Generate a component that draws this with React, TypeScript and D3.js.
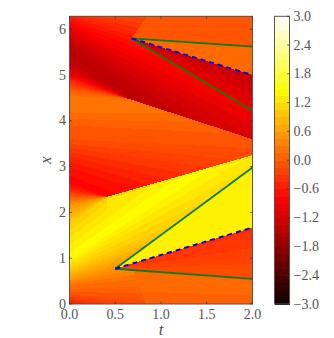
import React, { useRef, useEffect } from "react";
import * as d3 from "d3";

type Pt = [number, number];
// isoline of the field: x at t=0, x at t=2, value, last t it is valid for
type Iso = [number, number, number, number?];

const width = 334;
const height = 338;
const margin = { left: 69.5, right: 252.5, top: 16.3, bottom: 304 };
const barBox = { left: 274.5, right: 289.5, top: 16.3, bottom: 304 };

const tTicks = [0, 0.5, 1, 1.5, 2];
const xTicks = [0, 1, 2, 3, 4, 5, 6];
const barTicks = [3, 2.4, 1.8, 1.2, 0.6, 0, -0.6, -1.2, -1.8, -2.4, -3];

// hot colour map
const hotValues = [-3, -0.81, 1.476, 3];
const hotColors = ["#0b0000", "#ff0000", "#ffff00", "#ffffff"];
const imageLevels = 64;
const barLevels = 40;

// fronts
const upperGreenA: Pt[] = [[0.68, 5.8], [2, 5.62]];
const upperGreenB: Pt[] = [[0.68, 5.8], [2, 4.22]];
const upperBlue: Pt[] = [[0.68, 5.8], [2, 5.0]];
const lowerGreenA: Pt[] = [[0.5, 0.77], [2, 2.98]];
const lowerGreenB: Pt[] = [[0.5, 0.77], [2, 0.55]];
const lowerBlue: Pt[] = [[0.5, 0.77], [2, 1.67]];

// region outlines (t, x)
const topNoisyArea: Pt[] = [[0.68, 5.8], [0.85, 6.3], [2, 6.3], [2, 5.62]];
const upperLightArea: Pt[] = [[0.68, 5.8], [2, 5.62], [2, 5.0]];
const upperDarkArea: Pt[] = [[0.68, 5.8], [2, 5.0], [2, 4.22]];
const lowerYellowArea: Pt[] = [[0.5, 0.77], [2, 2.98], [2, 1.67]];
const lowerRedArea: Pt[] = [[0.5, 0.77], [2, 1.67], [2, 0.55]];
const bottomNoisyArea: Pt[] = [[0.7, 0.74], [2, 0.55], [2, -0.1], [0.85, -0.1]];
const upperFanArea: Pt[] = [[0, 4.9], [0.63, 4.49], [2, 3.6], [2, 4.22], [0.68, 5.8], [0.85, 6.3], [0, 6.3]];
const middleFanArea: Pt[] = [[0, 2.34], [0.41, 2.34], [2, 3.25], [2, 3.6], [0.63, 4.49], [0, 4.9]];
const lowerFanArea: Pt[] = [[0, -0.1], [0.85, -0.1], [0.7, 0.74], [0.5, 0.77], [2, 2.98], [2, 3.25], [0.41, 2.34], [0, 2.34]];

// values
const topNoisyIso: Iso[] = [[5.6, 5.6, -0.1], [6.3, 6.3, -0.05]];
const upperLightIso: Iso[] = [[5, 5, 0.15], [6, 6, 0.2]];
const upperDarkIso: Iso[] = [[6.614, 4.22, -1.0], [6.21, 5.0, -1.3]];
const lowerYellowIso: Iso[] = [[1, 1, 1.33], [3, 3, 1.33]];
const lowerRedIso: Iso[] = [[0.843, 0.55, -0.1], [0.47, 1.67, -0.4]];
const bottomNoisyIso: Iso[] = [[0, 0, 0.0], [0.4, 0.25, 0.12], [0.95, 0.45, 0.18], [1.1, 0.55, 0.0]];
const upperFanIso: Iso[] = [
  [4.9, 3.6, -0.55, 0.63],
  [5.05, 3.27, -1.0, 0.63],
  [5.25, 2.85, -1.3, 0.63],
  [5.5, 2.66, -1.42],
  [5.75, 3.15, -1.3],
  [6.0, 4.0, -1.0],
  [6.283, 5.08, -0.55],
  [6.4, 5.8, -0.25],
  [6.5, 6.4, -0.05],
];
const middleFanIso: Iso[] = [
  [2.34, 2.34, 0.0, 0.41],
  [2.5, 1.72, -0.5, 0.41],
  [2.67, 1.07, -0.8],
  [2.93, 1.53, -0.7],
  [3.25, 2.35, -0.45],
  [3.58, 3.38, -0.1],
  [3.9, 3.7, 0.0],
  [4.2, 4.2, 0.2],
  [4.5, 4.47, 0.25],
  [4.7, 4.03, -0.05, 0.63],
  [4.9, 3.6, -0.55, 0.63],
];
const lowerFanIso: Iso[] = [
  [-0.05, -1.45, -0.7],
  [0.02, -1.18, -0.6],
  [0.2, -0.1, -0.1],
  [0.3, 0.3, 0.05],
  [0.41, 0.81, 0.2],
  [0.55, 1.75, 0.6],
  [0.74, 2.4, 1.0],
  [1.0, 3.7, 1.47],
  [1.4, 4.32, 1.25],
  [1.72, 4.74, 1.05, 0.41],
  [2.14, 3.116, 0.55, 0.41],
  [2.34, 2.34, 0.0, 0.41],
];

const regions: [Pt[], Iso[]][] = [
  [lowerYellowArea, lowerYellowIso],
  [lowerRedArea, lowerRedIso],
  [bottomNoisyArea, bottomNoisyIso],
  [topNoisyArea, topNoisyIso],
  [upperLightArea, upperLightIso],
  [upperDarkArea, upperDarkIso],
  [upperFanArea, upperFanIso],
  [middleFanArea, middleFanIso],
  [lowerFanArea, lowerFanIso],
];

const fieldValue = (t: number, x: number, iso: Iso[]) => {
  const lines = iso
    .filter((d) => d[3] === undefined || t <= d[3])
    .map((d) => [d[0] + ((d[1] - d[0]) * t) / 2, d[2]])
    .sort((a, b) => a[0] - b[0]);
  return d3
    .scaleLinear()
    .domain(lines.map((d) => d[0]))
    .range(lines.map((d) => d[1]))
    .clamp(true)(x);
};

export default function App() {
  const svgRef = useRef<SVGSVGElement>(null);

  useEffect(() => {
    const svg = d3.select(svgRef.current);
    svg.selectAll("*").remove();
    const fontFamily = "'Liberation Serif', serif";
    const ink = "#555";

    const tScale = d3.scaleLinear().domain([0, 2]).range([margin.left, margin.right]);
    const xScale = d3.scaleLinear().domain([0, 6.283]).range([margin.bottom, margin.top]);
    const barScale = d3.scaleLinear().domain([-3, 3]).range([barBox.bottom, barBox.top]);
    const hot = d3.scaleLinear<string>().domain(hotValues).range(hotColors).clamp(true);
    const levelOf = (v: number) => Math.max(0, Math.min(imageLevels - 1, Math.floor(((v + 3) / 6) * imageLevels)));
    const levelColor = (l: number, n: number) => hot(-3 + ((l + 0.5) / n) * 6);

    // image, one path per colour level
    const paths: string[] = d3.range(imageLevels).map(() => "");
    const x0 = Math.floor(margin.left);
    const x1 = Math.ceil(margin.right);
    const y0 = Math.floor(margin.top);
    const y1 = Math.ceil(margin.bottom);
    for (let py = y0; py < y1; py++) {
      const x = xScale.invert(py + 0.5);
      for (let px = x0; px < x1; px++) {
        const t = tScale.invert(px + 0.5);
        const hit = regions.find((r) => d3.polygonContains(r[0], [t, x]));
        if (!hit) continue;
        paths[levelOf(fieldValue(t, x, hit[1]))] += `M${px} ${py}h1v1h-1z`;
      }
    }
    svg
      .append("g")
      .attr("shape-rendering", "crispEdges")
      .selectAll("path")
      .data(paths)
      .join("path")
      .attr("d", (d) => d)
      .attr("fill", (_, i) => levelColor(i, imageLevels));

    // fronts
    const line = d3
      .line<Pt>()
      .x((d) => tScale(d[0]))
      .y((d) => xScale(d[1]));
    [upperGreenA, upperGreenB, lowerGreenA, lowerGreenB].forEach((d) => {
      svg.append("path").attr("d", line(d)).attr("fill", "none").attr("stroke", "#0a7d0a").attr("stroke-width", 1.8);
    });
    [upperBlue, lowerBlue].forEach((d) => {
      svg
        .append("path")
        .attr("d", line(d))
        .attr("fill", "none")
        .attr("stroke", "#0000ff")
        .attr("stroke-width", 2)
        .attr("stroke-dasharray", "5 4");
    });

    // frame and ticks
    svg
      .append("rect")
      .attr("x", margin.left)
      .attr("y", margin.top)
      .attr("width", margin.right - margin.left)
      .attr("height", margin.bottom - margin.top)
      .attr("fill", "none")
      .attr("stroke", ink);

    const tick = (x1: number, y1: number, x2: number, y2: number) =>
      svg.append("line").attr("x1", x1).attr("y1", y1).attr("x2", x2).attr("y2", y2).attr("stroke", "#333").attr("stroke-width", 0.7);
    const label = (x: number, y: number, s: string, anchor: string) =>
      svg
        .append("text")
        .attr("x", x)
        .attr("y", y)
        .attr("text-anchor", anchor)
        .attr("font-family", fontFamily)
        .attr("font-size", 14)
        .attr("fill", ink)
        .text(s);

    tTicks.forEach((d) => {
      tick(tScale(d), margin.bottom, tScale(d), margin.bottom - 2.5);
      tick(tScale(d), margin.top, tScale(d), margin.top + 2.5);
      label(tScale(d), margin.bottom + 14.5, d.toFixed(1), "middle");
    });
    xTicks.forEach((d) => {
      tick(margin.left, xScale(d), margin.left + 2.5, xScale(d));
      tick(margin.right, xScale(d), margin.right - 2.5, xScale(d));
      label(margin.left - 3.5, xScale(d) + 4.5, String(d), "end");
    });

    label((margin.left + margin.right) / 2, 335, "t", "middle").attr("font-style", "italic").attr("font-size", 17);
    svg
      .append("text")
      .attr("transform", `translate(51,${(margin.top + margin.bottom) / 2}) rotate(-90)`)
      .attr("text-anchor", "middle")
      .attr("font-family", fontFamily)
      .attr("font-style", "italic")
      .attr("font-size", 17)
      .attr("fill", ink)
      .text("x");

    // colour bar
    svg
      .append("g")
      .attr("shape-rendering", "crispEdges")
      .selectAll("rect")
      .data(d3.range(barLevels))
      .join("rect")
      .attr("x", barBox.left)
      .attr("width", barBox.right - barBox.left)
      .attr("y", (d) => barScale(-3 + ((d + 1) / barLevels) * 6))
      .attr("height", (barBox.bottom - barBox.top) / barLevels + 0.5)
      .attr("fill", (d) => levelColor(d, barLevels));
    svg
      .append("rect")
      .attr("x", barBox.left)
      .attr("y", barBox.top)
      .attr("width", barBox.right - barBox.left)
      .attr("height", barBox.bottom - barBox.top)
      .attr("fill", "none")
      .attr("stroke", ink);
    barTicks.forEach((d) => {
      tick(barBox.right, barScale(d), barBox.right - 2.5, barScale(d));
      label(barBox.right + 4, barScale(d) + 4.5, d3.format(".1f")(d), "start");
    });
  }, []);

  return (
    <svg
      ref={svgRef}
      width={width}
      height={height}
      style={{ position: "absolute", left: 0, top: 0, background: "#fff" }}
    />
  );
}
